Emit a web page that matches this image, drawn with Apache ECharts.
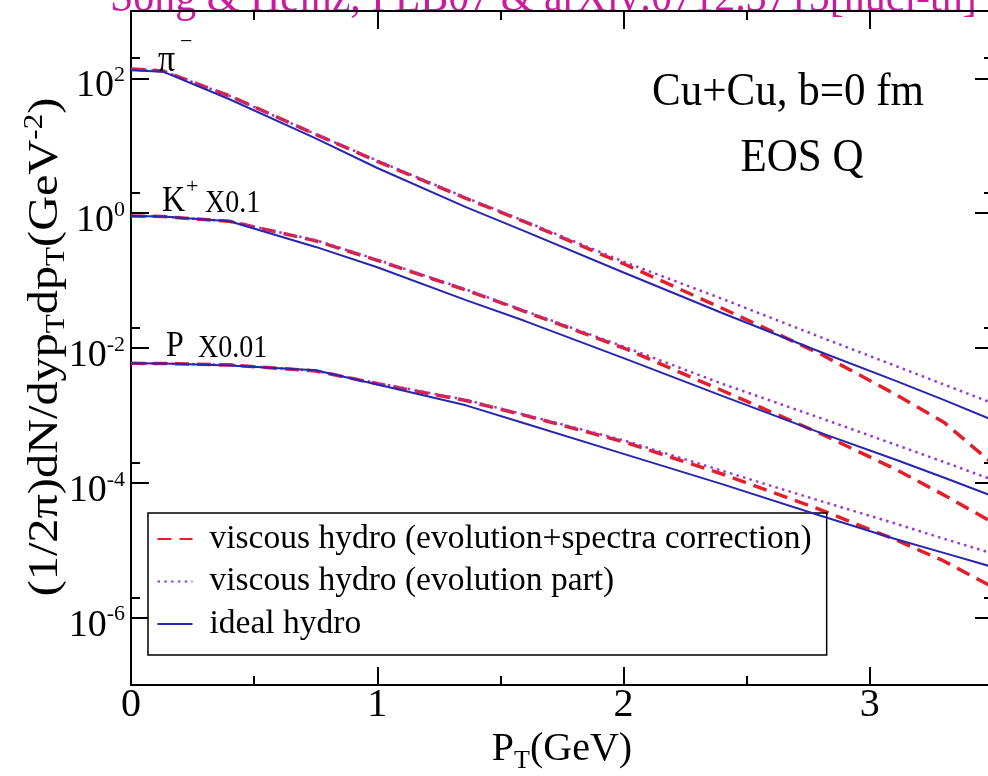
<!DOCTYPE html>
<html>
<head>
<meta charset="utf-8">
<script src="https://cdn.jsdelivr.net/npm/echarts@6/dist/echarts.min.js"></script>
<style>
  html, body { margin: 0; padding: 0; background: #fff; }
  #chart { width: 988px; height: 776px; }
</style>
</head>
<body>
<div id="chart"></div>
<script>
// Transverse momentum grid (GeV)
const pT = [0, 0.13, 0.4, 0.75, 1.0, 1.36, 1.6, 2.0, 2.4, 2.8, 3.1, 3.3, 3.5];

// pi- spectra
const piIdeal    = [132, 126, 49.0, 12.9, 4.68, 1.23, 0.537, 0.132, 0.0331, 0.00871, 0.00331, 0.00170, 0.000851];
const piViscFull = [138, 129, 55.0, 14.8, 5.89, 1.66, 0.741, 0.178, 0.0389, 0.00813, 0.00209, 0.000794, 0.000191];
const piViscEvo  = [138, 129, 55.0, 14.8, 6.03, 1.70, 0.759, 0.191, 0.0537, 0.0145, 0.00550, 0.00288, 0.00151];

// K+ spectra (x0.1)
const kIdeal    = [0.912, 0.891, 0.759, 0.316, 0.158, 0.0513, 0.0251, 0.00708, 0.00195, 0.000550, 0.000224, 0.000120, 0.0000631];
const kViscFull = [0.912, 0.891, 0.759, 0.389, 0.200, 0.0724, 0.0347, 0.0100, 0.00234, 0.000537, 0.000162, 0.0000661, 0.0000257];
const kViscEvo  = [0.912, 0.891, 0.759, 0.398, 0.204, 0.0741, 0.0355, 0.0105, 0.00295, 0.000912, 0.000372, 0.000204, 0.000110];

// proton spectra (x0.01)
const pIdeal    = [0.00593, 0.00589, 0.00550, 0.00468, 0.00288, 0.00141, 0.000759, 0.000269, 0.0000955, 0.0000324, 0.0000148, 0.00000912, 0.00000562];
const pViscFull = [0.00593, 0.00589, 0.00562, 0.00457, 0.00295, 0.00166, 0.00100, 0.000407, 0.000135, 0.0000398, 0.0000145, 0.00000692, 0.00000282];
const pViscEvo  = [0.00593, 0.00589, 0.00562, 0.00457, 0.00302, 0.00170, 0.00102, 0.000427, 0.000151, 0.0000537, 0.0000251, 0.0000148, 0.00000891];

const legendNames = [
  'viscous hydro (evolution+spectra correction)',
  'viscous hydro (evolution part)',
  'ideal hydro'
];
const xTickValues = [0, 1, 2, 3];
const yTickExponents = [-6, -4, -2, 0, 2];

const SERIF = "'Liberation Serif', 'Times New Roman', serif";
const RED = '#e3202a', PURPLE = '#9b34d4', BLUE = '#2626b2';

const GRID = { left: 131, top: 11, width: 862, bottom: 91 };
const PLOT_HEIGHT = 776 - GRID.top - GRID.bottom;

const lineKinds = [
  { name: legendNames[0], color: RED,    width: 3.5, type: [14, 8] },
  { name: legendNames[1], color: PURPLE, width: 2.5, type: [2.5, 4.3] },
  { name: legendNames[2], color: BLUE,   width: 2,   type: 'solid' }
];

const curves = [
  [piViscFull, 0], [kViscFull, 0], [pViscFull, 0],
  [piViscEvo, 1],  [kViscEvo, 1],  [pViscEvo, 1],
  [piIdeal, 2],    [kIdeal, 2],    [pIdeal, 2]
];

const series = curves.map(([vals, k]) => ({
  type: 'line',
  name: lineKinds[k].name,
  xAxisIndex: 0,
  yAxisIndex: 0,
  data: pT.map((x, i) => [x, vals[i]]),
  symbol: 'none',
  showSymbol: false,
  smooth: false,
  clip: true,
  lineStyle: { color: lineKinds[k].color, width: lineKinds[k].width, type: lineKinds[k].type, cap: 'butt' },
  itemStyle: { color: lineKinds[k].color },
  emphasis: { disabled: true },
  z: 2 + k
}));

const TICK_STYLE = { color: '#000', width: 2 };

// pT axis: major ticks every 1 GeV (long), minor ticks between them (short).
// The upper frame edge is a copy lifted to the top of the plot, its ticks hanging down.
function xAxisDef(withLabels, offset, tickInside) {
  return {
    type: 'value', position: 'bottom', offset, min: 0, max: 3.5, splitNumber: 4,
    axisLine: { show: true, onZero: false, lineStyle: { color: '#000', width: 2 } },
    axisTick: { show: true, inside: tickInside, length: 18, lineStyle: TICK_STYLE },
    minorTick: { show: true, splitNumber: 2, length: 9, lineStyle: TICK_STYLE },
    axisLabel: withLabels ? {
      show: true, margin: 0, color: '#000', fontFamily: SERIF, fontSize: 40,
      showMinLabel: true, showMaxLabel: true,
      formatter: v => xTickValues.includes(v) ? String(v) : ''
    } : { show: false },
    splitLine: { show: false },
    minorSplitLine: { show: false }
  };
}

// log axis: long ticks at every second decade, short ticks at twice those values
function yAxisDef(position, min, max, tickLen, withLabels) {
  return {
    type: 'log', logBase: 100, position, min, max,
    axisLine: { show: true, onZero: false, lineStyle: { color: '#000', width: 2 } },
    axisTick: { show: true, inside: true, length: tickLen, lineStyle: TICK_STYLE },
    axisLabel: withLabels ? {
      show: true, margin: 6, color: '#000', fontFamily: SERIF,
      padding: [16, 0, 0, 0],
      formatter: v => {
        const e = Math.round(Math.log10(v));
        if (Math.abs(Math.log10(v) - e) > 1e-6 || !yTickExponents.includes(e)) return '';
        return '{b|10}{s|' + e + '}';
      },
      rich: {
        b: { fontSize: 38, fontFamily: SERIF, color: '#000', lineHeight: 38, verticalAlign: 'bottom' },
        s: { fontSize: 22, fontFamily: SERIF, color: '#000', lineHeight: 22, padding: [0, 0, 22, 0] }
      }
    } : { show: false },
    splitLine: { show: false }
  };
}

const option = {
  animation: false,
  backgroundColor: '#fff',
  grid: Object.assign({ outerBoundsMode: 'none', containLabel: false }, GRID),
  xAxis: [
    Object.assign(xAxisDef(true, 0, true), {
      name: '{p|P}{t|T}{p|(GeV)}',
      nameLocation: 'middle',
      nameGap: 40,
      nameTextStyle: {
        rich: {
          p: { fontSize: 40, fontFamily: SERIF, color: '#000' },
          t: { fontSize: 26, fontFamily: SERIF, color: '#000', padding: [22, 0, 0, 0] }
        }
      }
    }),
    xAxisDef(false, -PLOT_HEIGHT, false)
  ],
  yAxis: [
    yAxisDef('left', 1e-7, 1e3, 18, true),
    yAxisDef('left', 5e-8, 500, 9, false),
    yAxisDef('right', 1e-7, 1e3, 18, false),
    yAxisDef('right', 5e-8, 500, 9, false)
  ],
  legend: {
    data: legendNames,
    orient: 'vertical',
    left: 148, top: 513,
    padding: [9, 15, 14, 8.5],
    itemWidth: 35, itemHeight: 16, itemGap: 8.5,
    backgroundColor: '#fff',
    borderColor: '#000', borderWidth: 1.5, borderRadius: 0,
    selectedMode: false,
    itemStyle: { opacity: 0 },
    textStyle: { fontSize: 33.5, fontFamily: SERIF, color: '#000', lineHeight: 34, padding: [0, 0, 0, 12] }
  },
  graphic: [
    { type: 'text', x: 110, y: -1, z: 0, scaleY: 1.1, style: {
      text: 'Song & Heinz, PLB07 & arXiv:0712.3715[nucl-th]',
      font: '42px ' + SERIF, fill: '#cc1a9e', align: 'left', verticalAlign: 'middle' } },
    { type: 'text', x: 46, y: 347, rotation: Math.PI / 2, scaleX: 1.15, z: 10, style: {
      text: '(1/2π)dN/dyp{sub|T}dp{sub|T}(GeV{sup|-2})',
      font: '42px ' + SERIF, fill: '#000', align: 'center', verticalAlign: 'middle',
      rich: {
        sub: { fontSize: 27, fontFamily: SERIF, fill: '#000', padding: [22, 0, 0, 0] },
        sup: { fontSize: 27, fontFamily: SERIF, fill: '#000', padding: [0, 0, 22, 0] }
      } } },
    { type: 'text', x: 158, y: 61, z: 10, scaleY: 1.1, style: {
      text: 'π', font: '34px ' + SERIF, fill: '#000', align: 'left', verticalAlign: 'middle' } },
    { type: 'text', x: 180, y: 42, z: 10, style: {
      text: '−', font: '22px ' + SERIF, fill: '#000', align: 'left', verticalAlign: 'middle' } },
    { type: 'text', x: 162, y: 202, z: 10, scaleY: 1.1, style: {
      text: 'K', font: '32px ' + SERIF, fill: '#000', align: 'left', verticalAlign: 'middle' } },
    { type: 'text', x: 186, y: 187, z: 10, style: {
      text: '+', font: '22px ' + SERIF, fill: '#000', align: 'left', verticalAlign: 'middle' } },
    { type: 'text', x: 205, y: 204, z: 10, scaleY: 1.1, style: {
      text: 'X0.1', font: '28px ' + SERIF, fill: '#000', align: 'left', verticalAlign: 'middle' } },
    { type: 'text', x: 166, y: 347, z: 10, scaleY: 1.1, style: {
      text: 'P', font: '32px ' + SERIF, fill: '#000', align: 'left', verticalAlign: 'middle' } },
    { type: 'text', x: 198, y: 349, z: 10, scaleY: 1.1, style: {
      text: 'X0.01', font: '28px ' + SERIF, fill: '#000', align: 'left', verticalAlign: 'middle' } },
    { type: 'text', x: 788, y: 93, z: 10, scaleY: 1.1, style: {
      text: 'Cu+Cu, b=0 fm', font: '43px ' + SERIF, fill: '#000', align: 'center', verticalAlign: 'middle' } },
    { type: 'text', x: 802, y: 159, z: 10, scaleY: 1.1, style: {
      text: 'EOS Q', font: '43px ' + SERIF, fill: '#000', align: 'center', verticalAlign: 'middle' } }
  ],
  series
};

const chart = echarts.init(document.getElementById('chart'), null, { renderer: 'canvas' });
chart.setOption(option);
</script>
</body>
</html>
